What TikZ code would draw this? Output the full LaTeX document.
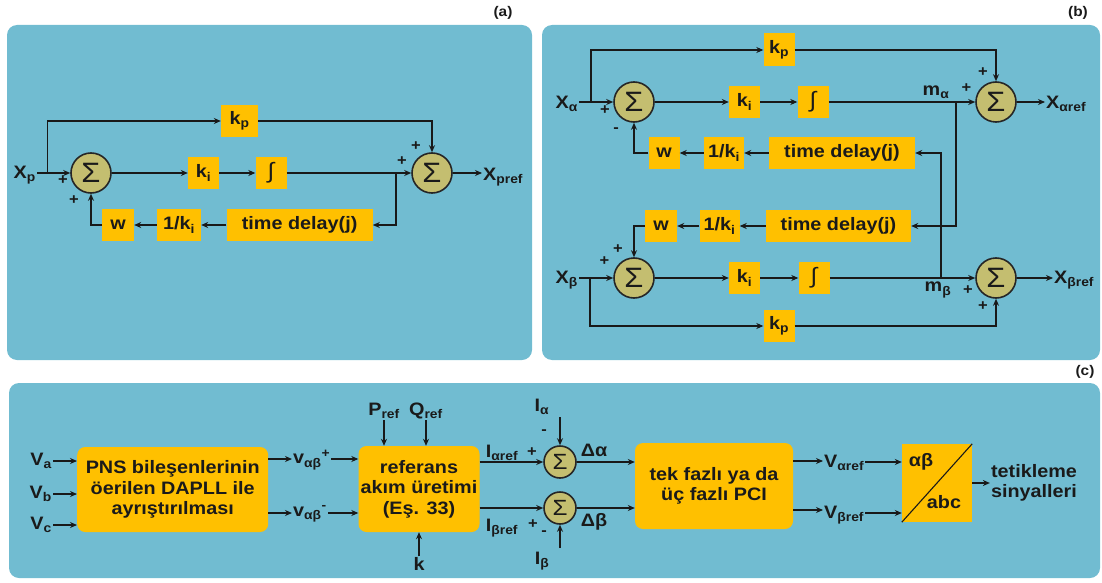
\documentclass[tikz,border=0pt]{standalone}
\usepackage{fontspec}
\setmainfont{Liberation Sans}[FakeStretch=1.1]
\usetikzlibrary{arrows.meta}

\definecolor{panelblue}{RGB}{113,188,209}
\definecolor{boxgold}{RGB}{255,192,0}
\definecolor{sumolive}{RGB}{196,190,112}
\definecolor{inktext}{RGB}{26,26,26}

\newcommand{\lsub}[1]{\textsubscript{#1}}
\newcommand{\lsup}[1]{\textsuperscript{#1}}

\tikzset{
  panel/.style={fill=panelblue, rounded corners=10pt},
  blk/.style={fill=boxgold, inner sep=0pt, minimum height=32, text=inktext,
    font=\fontsize{18}{20}\selectfont\bfseries},
  bigblk/.style={blk, rounded corners=8pt, align=center,
    font=\fontsize{18}{20.5}\selectfont\bfseries},
  sumc/.style={circle, draw=black!85, line width=1.6pt, fill=sumolive,
    minimum size=40, inner sep=0pt, text=inktext, font=\fontsize{28}{28}\selectfont},
  smallsum/.style={sumc, minimum size=32, font=\fontsize{22}{22}\selectfont},
  lbl/.style={text=inktext, inner sep=1pt, font=\fontsize{18}{18}\selectfont\bfseries},
  sgn/.style={text=inktext, inner sep=0pt, font=\fontsize{15}{15}\selectfont\bfseries},
  tag/.style={text=inktext, inner sep=0pt, font=\fontsize{14}{14}\selectfont\bfseries},
  arr/.style={draw=black!90, line width=1.1pt, -{Stealth[length=7pt,width=6pt]}},
  ln/.style={draw=black!90, line width=1.1pt}
}

\begin{document}
\begin{tikzpicture}[x=1pt,y=-1pt]
\useasboundingbox (0,0) rectangle (1102,583);

% Panels
\fill[panel] (7,25) rectangle (532,360);
\fill[panel] (542,25) rectangle (1100,360);
\fill[panel] (9,383) rectangle (1100,578);
\node[tag] (taga) at (503,13) {(a)};
\node[tag] (tagb) at (1078,13) {(b)};
\node[tag] (tagc) at (1085,372) {(c)};

% ---------- (a) ----------
\node[blk, minimum width=37, minimum height=32] (akp) at (239.5,121) {k\lsub{p}};
\node[sumc] (as1) at (91,173) {Σ};
\node[blk, minimum width=31] (aki) at (203.5,173) {k\lsub{i}};
\node[blk, minimum width=31, font=\fontsize{22}{22}\selectfont] (aint) at (271,173) {∫};
\node[sumc] (as2) at (432,173) {Σ};
\node[blk, minimum width=146] (atd) at (299.6,225) {time delay(j)};
\node[blk, minimum width=44] (ainv) at (179,225) {1/k\lsub{i}};
\node[blk, minimum width=32] (aw) at (118,225) {w};
\node[lbl, anchor=east] (axp) at (37,175) {X\lsub{p}};
\node[lbl, anchor=west] (axpref) at (482,177) {X\lsub{pref}};
\coordinate (abr) at (47.5,173);
\coordinate (atap) at (396,173);
% connections
\draw[arr] (axp.east |- as1) -- (as1.west);
\draw[arr] (abr) |- (akp.west);
\draw[arr] (akp.east) -| (as2.north);
\draw[arr] (as1.east) -- (aki.west);
\draw[arr] (aki) -- (aint);
\draw[arr] (aint.east) -- (as2.west);
\draw[arr] (atap) |- (atd.east);
\draw[arr] (atd) -- (ainv);
\draw[arr] (ainv) -- (aw);
\draw[arr] (aw.west) -| (as1.south);
\draw[arr] (as2.east) -- (axpref.west |- as2);
% signs
\node[sgn] (asg1) at (416,146) {+};
\node[sgn] (asg2) at (402,161) {+};
\node[sgn] (asg3) at (63,180) {+};
\node[sgn] (asg4) at (74,200) {+};

% ---------- (b) alpha ----------
\node[blk, minimum width=31, minimum height=33] (bkpa) at (779,50) {k\lsub{p}};
\node[sumc] (bs1a) at (634,102) {Σ};
\node[blk, minimum width=31] (bkia) at (744.5,102) {k\lsub{i}};
\node[blk, minimum width=31, font=\fontsize{22}{22}\selectfont] (binta) at (813,102) {∫};
\node[sumc] (bs2a) at (996,102) {Σ};
\node[blk, minimum width=146] (btda) at (842,153) {time delay(j)};
\node[blk, minimum width=40] (binva) at (724,153) {1/k\lsub{i}};
\node[blk, minimum width=31] (bwa) at (664,153) {w};
\node[lbl, anchor=east] (bxa) at (579,104) {X\lsub{α}};
\node[lbl, anchor=west] (bxaref) at (1045,104) {X\lsub{αref}};
\node[lbl] (bma) at (936,92) {m\lsub{α}};
\coordinate (bbra) at (591,102);
\coordinate (btapa) at (956,102);

% ---------- (b) beta ----------
\node[blk, minimum width=31] (bkpb) at (779,326) {k\lsub{p}};
\node[sumc] (bs1b) at (634,278) {Σ};
\node[blk, minimum width=31] (bkib) at (744.5,278) {k\lsub{i}};
\node[blk, minimum width=31, font=\fontsize{22}{22}\selectfont] (bintb) at (814,278) {∫};
\node[sumc] (bs2b) at (996,278) {Σ};
\node[blk, minimum width=145] (btdb) at (838.5,226) {time delay(j)};
\node[blk, minimum width=40] (binvb) at (719.5,226) {1/k\lsub{i}};
\node[blk, minimum width=32] (bwb) at (661,226) {w};
\node[lbl, anchor=east] (bxb) at (579,280) {X\lsub{β}};
\node[lbl, anchor=west] (bxbref) at (1053,280) {X\lsub{βref}};
\node[lbl] (bmb) at (938,290) {m\lsub{β}};
\coordinate (bbrb) at (590,278);
\coordinate (btapb) at (941,278);

% connections (b)
\draw[arr] (bxa.east |- bs1a) -- (bs1a.west);
\draw[arr] (bbra) |- (bkpa.west);
\draw[arr] (bkpa.east) -| (bs2a.north);
\draw[arr] (bs1a.east) -- (bkia.west);
\draw[arr] (bkia) -- (binta);
\draw[arr] (binta.east) -- (bs2a.west);
\draw[arr] (btda) -- (binva);
\draw[arr] (binva) -- (bwa);
\draw[arr] (bwa.west) -| (bs1a.south);
\draw[arr] (bs2a.east) -- (bxaref.west |- bs2a);
\draw[arr] (bxb.east |- bs1b) -- (bs1b.west);
\draw[arr] (bbrb) |- (bkpb.west);
\draw[arr] (bkpb.east) -| (bs2b.south);
\draw[arr] (bs1b.east) -- (bkib.west);
\draw[arr] (bkib) -- (bintb);
\draw[arr] (bintb.east) -- (bs2b.west);
\draw[arr] (btdb) -- (binvb);
\draw[arr] (binvb) -- (bwb);
\draw[arr] (bwb.west) -| (bs1b.north);
\draw[arr] (bs2b.east) -- (bxbref.west |- bs2b);
\draw[arr] (btapa) |- (btdb.east);
\draw[arr] (btapb) |- (btda.east);
% signs
\node[sgn] (bsg1) at (983,72) {+};
\node[sgn] (bsg2) at (966.5,88) {+};
\node[sgn] (bsg3) at (605,110) {+};
\node[sgn] (bsg4) at (616,130) {-};
\node[sgn] (bsg5) at (618,249) {+};
\node[sgn] (bsg6) at (604.5,261) {+};
\node[sgn] (bsg7) at (968,290) {+};
\node[sgn] (bsg8) at (983,306) {+};

% ---------- (c) ----------
\node[bigblk, minimum width=191, minimum height=85] (cpns) at (172.7,489.5)
  {PNS bileşenlerinin\\öerilen DAPLL ile\\ayrıştırılması};
\node[lbl, anchor=east] (cva) at (53,461) {V\lsub{a}};
\node[lbl, anchor=east] (cvb) at (53,494) {V\lsub{b}};
\node[lbl, anchor=east] (cvc) at (53,525) {V\lsub{c}};
\draw[arr] (cva.east) -- (cva.east -| cpns.west);
\draw[arr] (cvb.east) -- (cvb.east -| cpns.west);
\draw[arr] (cvc.east) -- (cvc.east -| cpns.west);

\node[bigblk, minimum width=121, minimum height=86] (cref) at (419,489)
  {referans\\akım üretimi\\(Eş. 33)};
\node[lbl, anchor=west] (cvp) at (292,460) {v\lsub{αβ}\lsup{+}};
\node[lbl, anchor=west] (cvm) at (292,514) {v\lsub{αβ}\lsup{-}};
\draw[arr] (cpns.east |- 0,459) -- (cvp.west |- 0,459);
\draw[arr] (cvp.east |- 0,459) -- (cref.west |- 0,459);
\draw[arr] (cpns.east |- 0,513) -- (cvm.west |- 0,513);
\draw[arr] (cvm.east |- 0,513) -- (cref.west |- 0,513);

\node[lbl] (cpref) at (384,411) {P\lsub{ref}};
\node[lbl] (cqref) at (426,411) {Q\lsub{ref}};
\node[lbl] (ck) at (419,564) {k};
\draw[arr] (cpref.south) -- (cpref.south |- cref.north);
\draw[arr] (cqref.south) -- (cqref.south |- cref.north);
\draw[arr] (ck.north) -- (ck.north |- cref.south);

\node[smallsum] (csa) at (560,462) {Σ};
\node[smallsum] (csb) at (560,508) {Σ};
\node[lbl] (ciar) at (502,453) {I\lsub{αref}};
\node[lbl] (cibr) at (502,528) {I\lsub{βref}};
\draw[arr] (cref.east |- csa) -- (csa.west);
\draw[arr] (cref.east |- csb) -- (csb.west);
\node[lbl] (cia) at (542,407) {I\lsub{α}};
\node[lbl] (cib) at (542,561) {I\lsub{β}};
\coordinate (cia0) at (560,417);
\coordinate (cib0) at (560,548);
\draw[arr] (cia0) -- (csa.north);
\draw[arr] (cib0) -- (csb.south);
\node[sgn] (csg1) at (532,452) {+};
\node[sgn] (csg2) at (544,432) {-};
\node[sgn] (csg3) at (533,524) {+};
\node[sgn] (csg4) at (544,533) {-};

\node[bigblk, minimum width=158, minimum height=86] (cpci) at (714,486)
  {tek fazlı ya da\\üç fazlı PCI};
\node[lbl] (cda) at (594,450) {Δα};
\node[lbl] (cdb) at (594,522) {Δβ};
\draw[arr] (csa.east) -- (csa.east -| cpci.west);
\draw[arr] (csb.east) -- (csb.east -| cpci.west);

\node[blk, minimum width=70, minimum height=78] (cabc) at (937,483) {};
\draw[ln] (cabc.south west) -- (cabc.north east);
\node[lbl] (cab) at (921,462) {αβ};
\node[lbl] (cabcl) at (944,502) {abc};
\node[lbl, anchor=west] (cvar) at (823,463) {V\lsub{αref}};
\node[lbl, anchor=west] (cvbr) at (823,515) {V\lsub{βref}};
\draw[arr] (cpci.east |- 0,461) -- (cvar.west |- 0,461);
\draw[arr] (cvar.east |- 0,462) -- (cabc.west |- 0,462);
\draw[arr] (cpci.east |- 0,510) -- (cvbr.west |- 0,510);
\draw[arr] (cvbr.east |- 0,513) -- (cabc.west |- 0,513);

\node[lbl, align=left] (ctxt) at (1034,483) {tetikleme\\[2pt]sinyalleri};
\draw[arr] (cabc.east) -- (ctxt.west |- cabc.east);
\end{tikzpicture}
\end{document}
